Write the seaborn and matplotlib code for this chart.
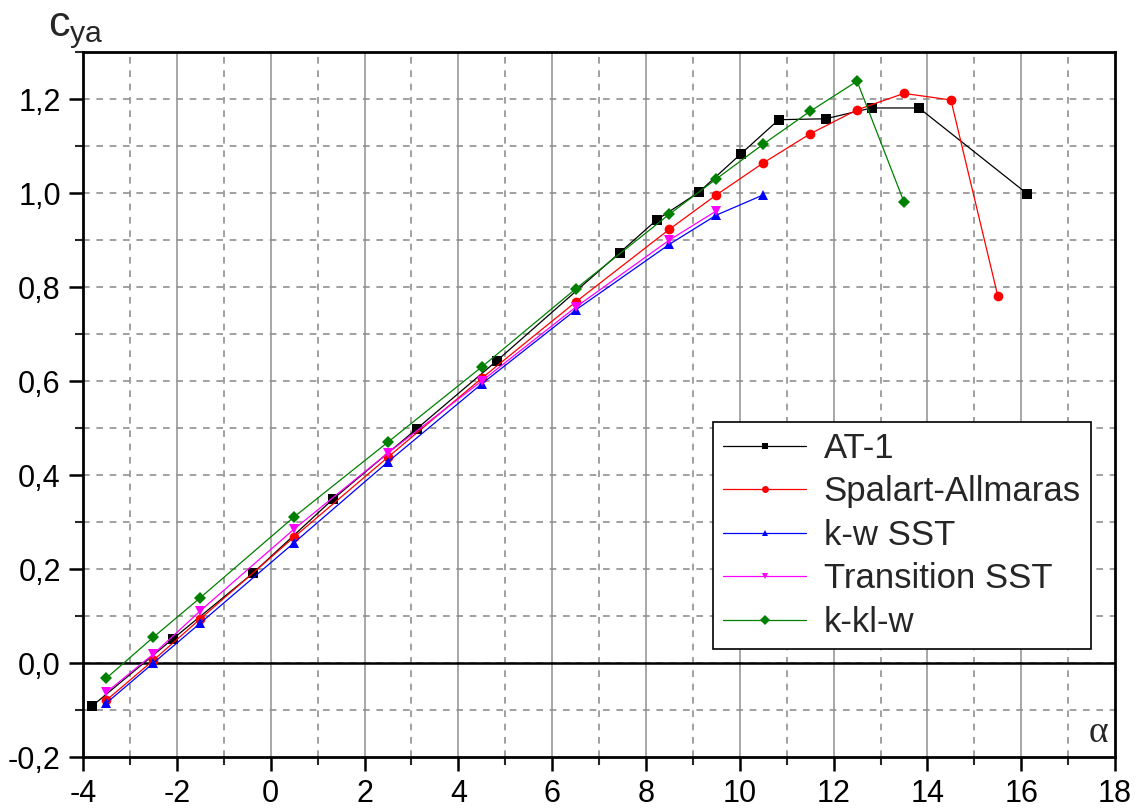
import numpy as np
import pandas as pd
import matplotlib
matplotlib.use("Agg")
import matplotlib.pyplot as plt
import seaborn as sns
from matplotlib.ticker import MultipleLocator, FuncFormatter

# Данные (угол атаки, коэффициент подъемной силы)
at1_x = [-3.8, -2.09, -0.38, 1.32, 3.11, 4.82, 7.44, 8.23, 9.13, 10.02, 10.83, 11.83, 12.81, 13.82, 16.12]
at1_y = [-0.091, 0.051, 0.191, 0.348, 0.498, 0.643, 0.873, 0.943, 1.002, 1.083, 1.156, 1.158, 1.181, 1.181, 0.999]

sa_x = [-3.5, -2.5, -1.5, 0.5, 2.5, 4.5, 6.5, 8.5, 9.5, 10.5, 11.5, 12.5, 13.5, 14.5, 15.5]
sa_y = [-0.079, 0.006, 0.094, 0.268, 0.438, 0.606, 0.768, 0.923, 0.996, 1.064, 1.126, 1.177, 1.212, 1.198, 0.781]

kw_x = [-3.5, -2.5, -1.5, 0.5, 2.5, 4.5, 6.5, 8.5, 9.5, 10.5]
kw_y = [-0.085, 0.0, 0.085, 0.256, 0.428, 0.594, 0.751, 0.891, 0.953, 0.996]

tr_x = [-3.5, -2.5, -1.5, 0.5, 2.5, 4.5, 6.5, 8.5, 9.5]
tr_y = [-0.062, 0.019, 0.111, 0.285, 0.447, 0.600, 0.757, 0.900, 0.962]

kkl_x = [-3.5, -2.5, -1.5, 0.5, 2.5, 4.5, 6.5, 8.5, 9.5, 10.5, 11.5, 12.5, 13.5]
kkl_y = [-0.032, 0.055, 0.139, 0.311, 0.470, 0.630, 0.796, 0.955, 1.030, 1.104, 1.174, 1.238, 0.981]

series = [
    ("AT-1", at1_x, at1_y, "black", "s", 7),
    ("Spalart-Allmaras", sa_x, sa_y, "red", "o", 7),
    ("k-w SST", kw_x, kw_y, "blue", "^", 7.5),
    ("Transition SST", tr_x, tr_y, "magenta", "v", 7.5),
    ("k-kl-w", kkl_x, kkl_y, "green", "D", 6),
]

sns.set_style("white")
plt.rcParams['font.family'] = ['Liberation Sans', 'DejaVu Sans']

fig = plt.figure(figsize=(11.39, 8.08), dpi=100)
ax = fig.add_axes([0.0729, 0.0631, 0.9061, 0.8725])

for name, xs, ys, col, mk, ms in series:
    df = pd.DataFrame({"alpha": xs, "cya": ys})
    sns.lineplot(data=df, x="alpha", y="cya", ax=ax, color=col, marker=mk,
                 markersize=ms, markeredgewidth=0, linewidth=0.9, label=name,
                 zorder=3)

ax.set_xlim(-4, 18)
ax.set_ylim(-0.2, 1.3)
ax.xaxis.set_major_locator(MultipleLocator(2))
ax.xaxis.set_minor_locator(MultipleLocator(1))
ax.yaxis.set_major_locator(MultipleLocator(0.2))
ax.yaxis.set_minor_locator(MultipleLocator(0.1))
ax.xaxis.set_major_formatter(FuncFormatter(lambda v, p: f"{v:.0f}"))
ax.yaxis.set_major_formatter(FuncFormatter(lambda v, p: f"{v:.1f}".replace(".", ",").replace("-0,0", "0,0")))

# сетка
ax.grid(False)
for xv in np.arange(-2, 18, 2):
    ax.axvline(xv, color="#a0a0a0", lw=1.3, zorder=1)
for xv in np.arange(-3, 18, 2):
    ax.axvline(xv, color="#909090", lw=1.2, ls=(0, (4, 4)), zorder=1)
for yv in np.arange(-0.1, 1.31, 0.1):
    ax.axhline(yv, color="#909090", lw=1.2, ls=(0, (4, 4)), zorder=1)
ax.axhline(0, color="black", lw=1.8, zorder=2)

ax.tick_params(which="major", direction="out", length=10, width=1.8, labelsize=22,
               bottom=True, left=True, pad=6, colors="black")
ax.tick_params(which="minor", direction="out", length=6, width=1.5, bottom=True, left=True)
for s in ax.spines.values():
    s.set_color("black")
    s.set_linewidth(2)

ax.set_xlabel("")
ax.set_ylabel("")
fig.text(0.042, 0.955, r"$\mathregular{c_{ya}}$", fontsize=31, ha="left", va="baseline")
ax.text(0.993, 0.01, "α", transform=ax.transAxes, ha="right", va="bottom",
        fontsize=27, family=["Liberation Serif", "DejaVu Serif"])

leg = ax.legend(loc="lower left", bbox_to_anchor=(0.610, 0.153), fontsize=25,
                frameon=True, fancybox=False, edgecolor="black", framealpha=1,
                handlelength=2.4, handletextpad=0.5, labelspacing=0.3,
                borderpad=0.3, borderaxespad=0)
leg.get_frame().set_linewidth(1.2)
for ln in leg.get_lines():
    ln.set_markersize(5)

fig.savefig("out.png", dpi=100)
